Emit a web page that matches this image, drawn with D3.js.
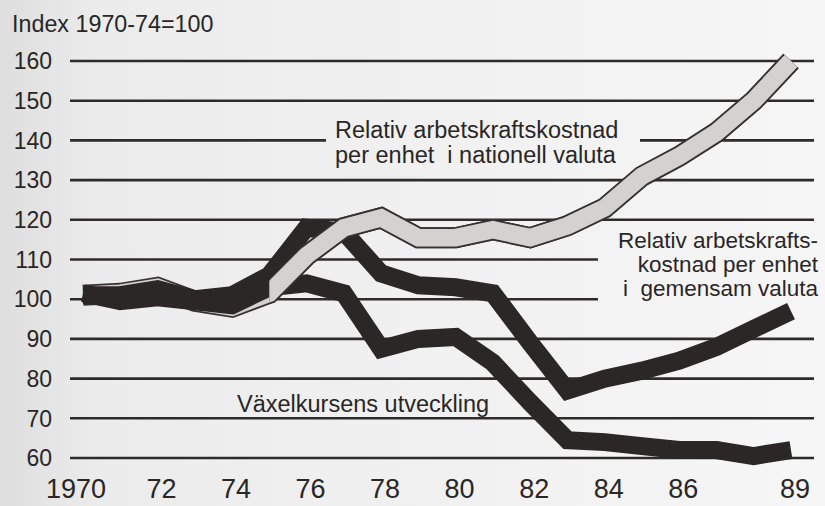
<!DOCTYPE html>
<html>
<head>
<meta charset="utf-8">
<script src="https://cdn.jsdelivr.net/npm/d3@7"></script>
<style>
  body { margin: 0; background: #f2f2f2; }
  svg { display: block; }
  text { font-family: "Liberation Sans", Arial, Helvetica, sans-serif; fill: #2a2625; }
</style>
</head>
<body>
<div id="chart"></div>
<script>
// years on the x axis
var years = [1970, 1971, 1972, 1973, 1974, 1975, 1976, 1977, 1978, 1979,
             1980, 1981, 1982, 1983, 1984, 1985, 1986, 1987, 1988, 1989];

// Relativ arbetskraftskostnad per enhet i nationell valuta (light line)
var nationell = [101, 101.5, 103, 99.5, 98, 101.5, 111, 118, 120.5, 115.5,
                 115.5, 117.5, 115.5, 118.5, 123, 131, 136, 142, 150, 160];
// Relativ arbetskraftskostnad per enhet i gemensam valuta
var gemensam = [101, 101, 102.5, 100, 101, 106, 118, 117, 106.5, 103.5,
                103, 101.5, 89, 77, 80, 82, 84.5, 88, 92.5, 97];
// Växelkursens utveckling
var vaxelkurs = [101.5, 99.5, 100.5, 99.5, 98.5, 103, 104, 101.5, 87.5, 90,
                 90.5, 84, 74, 64.5, 64, 63, 62, 62, 60.5, 62];

var yTicks = [60, 70, 80, 90, 100, 110, 120, 130, 140, 150, 160];
var xTicks = [1970, 1972, 1974, 1976, 1978, 1980, 1982, 1984, 1986, 1989];
var xTickLabels = ["1970", "72", "74", "76", "78", "80", "82", "84", "86", "89"];

var width = 825, height = 506;

var svg = d3.select("#chart").append("svg")
    .attr("width", width)
    .attr("height", height);

// paper background
var defs = svg.append("defs");
var grad = defs.append("linearGradient").attr("id", "paper")
    .attr("x1", 0).attr("x2", 1).attr("y1", 0).attr("y2", 0);
grad.append("stop").attr("offset", "0%").attr("stop-color", "#dedede");
grad.append("stop").attr("offset", "12%").attr("stop-color", "#ececec");
grad.append("stop").attr("offset", "100%").attr("stop-color", "#f6f6f6");
svg.append("rect").attr("width", width).attr("height", height).attr("fill", "url(#paper)");

var x = d3.scaleLinear().domain([1970, 1989]).range([83, 791]);
var y = d3.scaleLinear().domain([60, 160]).range([458, 61]);

// gridlines (some are broken by the labels)
var gridLeft = 70, gridRight = 814;
yTicks.forEach(function(v) {
  var segs = [[gridLeft, gridRight]];
  if (v == 140) segs = [[gridLeft, 326], [640, gridRight]];
  if (v == 110 || v == 100) segs = [[gridLeft, 598]];
  segs.forEach(function(s) {
    svg.append("line")
      .attr("x1", s[0]).attr("x2", s[1])
      .attr("y1", y(v)).attr("y2", y(v))
      .attr("stroke", "#2f2b2a")
      .attr("stroke-width", 2.6);
  });
});

// y tick labels
svg.append("g").selectAll("text").data(yTicks).enter().append("text")
  .attr("x", 52)
  .attr("y", function(d) { return y(d); })
  .attr("dy", "0.36em")
  .attr("text-anchor", "end")
  .style("font-size", "23px")
  .text(function(d) { return d; });

// x tick labels
svg.append("g").selectAll("text").data(xTicks).enter().append("text")
  .attr("x", function(d) { return x(d); })
  .attr("dx", function(d, i) { return i == 0 ? -7 : 4; })
  .attr("y", 498)
  .attr("text-anchor", "middle")
  .style("font-size", "27px")
  .text(function(d, i) { return xTickLabels[i]; });

svg.append("text")
  .attr("x", 12).attr("y", 32)
  .style("font-size", "23.3px")
  .text("Index 1970-74=100");

var line = function(vals) {
  return d3.line()
    .x(function(d, i) { return x(years[i]); })
    .y(function(d) { return y(d); })(vals);
};

function lightLine(g) {
  g.append("path").attr("d", line(nationell))
    .attr("fill", "none").attr("stroke", "#363231")
    .attr("stroke-width", 21).attr("stroke-linejoin", "miter")
    .attr("stroke-miterlimit", 2.5);
  g.append("path").attr("d", line(nationell))
    .attr("fill", "none").attr("stroke", "#d3d2d1")
    .attr("stroke-width", 17.5).attr("stroke-linejoin", "miter")
    .attr("stroke-miterlimit", 2.5);
}

// light line underneath in the early years
lightLine(svg.append("g"));

[gemensam, vaxelkurs].forEach(function(vals) {
  svg.append("path").attr("d", line(vals))
    .attr("fill", "none").attr("stroke", "#2b2726")
    .attr("stroke-width", 18).attr("stroke-linejoin", "miter")
    .attr("stroke-miterlimit", 2.5);
});

// light line drawn over the dark ones from 1975 on
defs.append("clipPath").attr("id", "late")
  .append("rect").attr("x", x(1975)).attr("y", 0)
  .attr("width", width - x(1975)).attr("height", height);
lightLine(svg.append("g").attr("clip-path", "url(#late)"));

// labels
svg.append("text")
  .attr("x", 335).attr("y", 138)
  .style("font-size", "23.5px")
  .text("Relativ arbetskraftskostnad");
svg.append("text")
  .attr("x", 335).attr("y", 163)
  .style("font-size", "23.5px").style("white-space", "pre")
  .text("per enhet  i nationell valuta");

var right = ["Relativ arbetskrafts-", "kostnad per enhet", "i  gemensam valuta"];
svg.append("g").selectAll("text").data(right).enter().append("text")
  .attr("x", 818)
  .attr("y", function(d, i) { return 248 + i * 24; })
  .attr("text-anchor", "end")
  .style("font-size", "22.5px").style("white-space", "pre")
  .text(function(d) { return d; });

svg.append("text")
  .attr("x", 237).attr("y", 412)
  .style("font-size", "23.5px")
  .text("Växelkursens utveckling");
</script>
</body>
</html>
